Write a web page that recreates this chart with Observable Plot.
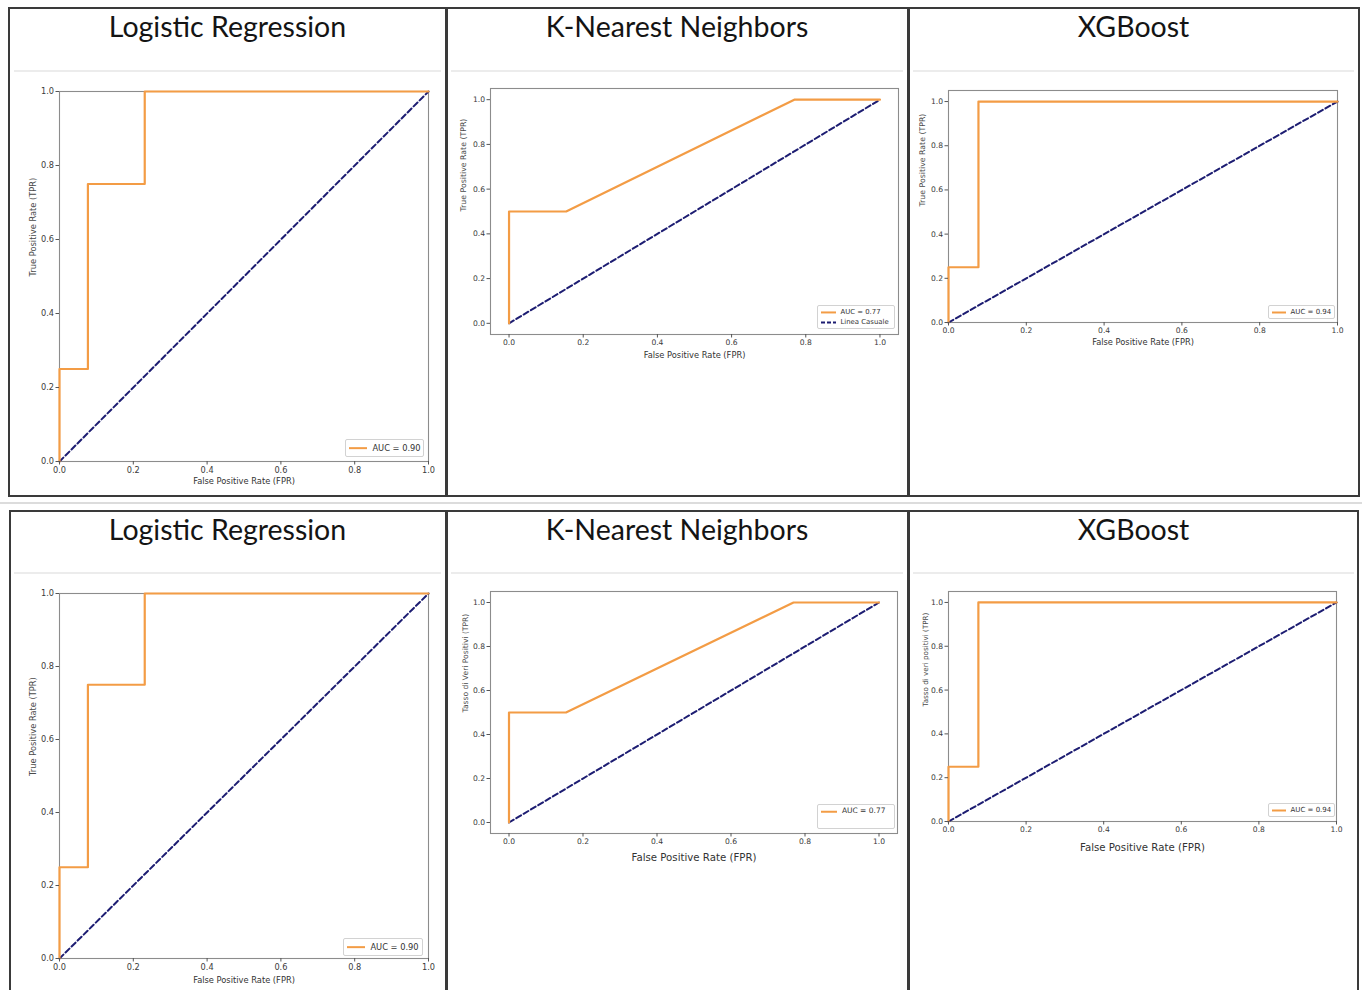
<!DOCTYPE html>
<html><head><meta charset="utf-8">
<script src="https://cdn.jsdelivr.net/npm/d3@7"></script>
<script src="https://cdn.jsdelivr.net/npm/@observablehq/plot@0.6"></script>
<style>
html,body{margin:0;padding:0;background:#fff}
body{width:1362px;height:990px;overflow:hidden;position:relative;font-family:"DejaVu Sans",sans-serif}
.abs{position:absolute}
.box{position:absolute;border:2.5px solid #3a3a3a;box-sizing:border-box}
.vline{position:absolute;width:2.5px;background:#3a3a3a}
.hfaint{position:absolute;height:1.5px;background:#ececec}
.title{position:absolute;text-align:center;font-family:Lato,sans-serif;font-size:28.5px;color:#141414;line-height:30px;white-space:nowrap}
.legend{position:absolute;background:#fff;border:1px solid #d2d2d2;border-radius:2px;box-sizing:border-box;color:#333;font-family:"DejaVu Sans",sans-serif}
.legend .row{display:flex;align-items:center;white-space:nowrap}
.plotwrap{position:absolute}
.plotwrap svg{overflow:visible}
</style></head><body>
<script>
// ---- data ----
const models = ["Logistic Regression", "K-Nearest Neighbors", "XGBoost"];
const fprLR = [0, 0, 0.077, 0.077, 0.231, 0.231, 1];
const tprLR = [0, 0.25, 0.25, 0.75, 0.75, 1, 1];
const fprKNN = [0, 0, 0.154, 0.769, 1];
const tprKNN = [0, 0.5, 0.5, 1, 1];
const fprXGB = [0, 0, 0.077, 0.077, 1];
const tprXGB = [0, 0.25, 0.25, 1, 1];
const diagFpr = [0, 1];
const diagTpr = [0, 1];
const aucLabels = ["AUC = 0.90", "AUC = 0.77", "AUC = 0.94"];
const randomLabel = "Linea Casuale";
const tickValues = [0, 0.2, 0.4, 0.6, 0.8, 1.0];
const xLabel = "False Positive Rate (FPR)";
const yLabelsTop = ["True Positive Rate (TPR)", "True Positive Rate (TPR)", "True Positive Rate (TPR)"];
const yLabelsBottom = ["True Positive Rate (TPR)", "Tasso di Veri Positivi (TPR)", "Tasso di veri positivi (TPR)"];

const series = [[fprLR, tprLR], [fprKNN, tprKNN], [fprXGB, tprXGB]];

const ORANGE = "#f39c45";
const NAVY = "#1d1d72";

// ---- layout (pixel positions of each panel) ----
const layout = [
  // row 0
  {row:0,col:0, frame:[59,91,428,461], xd:[0,1], yd:[0,1], fs:8.2, xlFs:8.3, ylFs:8.3, xlOff:20, ylOff:26,
   legend:{x:345,y:439,w:79,h:18,fs:8.3,sw:18,entries:1}},
  {row:0,col:1, frame:[490,88,898,334], xd:[-0.05,1.05], yd:[-0.05,1.05], fs:7.6, xlFs:8.3, ylFs:7.8, xlOff:21, ylOff:27,
   legend:{x:817,y:305,w:78,h:24,fs:6.9,sw:15,entries:2}},
  {row:0,col:2, frame:[948,90,1337,322], xd:[0,1], yd:[0,1.05], fs:7.6, xlFs:8.3, ylFs:7.8, xlOff:20, ylOff:26,
   legend:{x:1268,y:305,w:67,h:14,fs:7,sw:14,entries:1}},
  // row 1
  {row:1,col:0, frame:[59,593,428,958], xd:[0,1], yd:[0,1], fs:8.2, xlFs:8.3, ylFs:8.3, xlOff:22, ylOff:26,
   legend:{x:343,y:938,w:80,h:18,fs:8.3,sw:18,entries:1}},
  {row:1,col:1, frame:[490,591,897,833], xd:[-0.05,1.05], yd:[-0.05,1.05], fs:7.6, xlFs:10.2, ylFs:7.6, xlOff:24, ylOff:25,
   legend:{x:817,y:804,w:78,h:25,fs:7.5,sw:16,entries:1,blankRow:true}},
  {row:1,col:2, frame:[948,591,1336,821], xd:[0,1], yd:[0,1.05], fs:7.6, xlFs:10.2, ylFs:7.2, xlOff:26, ylOff:23,
   legend:{x:1268,y:803,w:67,h:14,fs:7,sw:14,entries:1}}
];

// ---- frame boxes ----
function el(cls, style, text){
  const d = document.createElement("div");
  d.className = cls;
  Object.assign(d.style, style);
  if (text != null) d.textContent = text;
  document.body.appendChild(d);
  return d;
}
el("box", {left:"8px", top:"7px", width:"1352px", height:"490px"});
el("box", {left:"9px", top:"510px", width:"1350px", height:"500px"});
el("abs", {left:"0px", top:"502px", width:"1362px", height:"2px", background:"#dcdcdc"});
[445, 907].forEach(x => {
  el("vline", {left:x+"px", top:"7px", height:"490px"});
  el("vline", {left:x+"px", top:"510px", height:"490px"});
});
const colSpans = [[10,445],[447,907],[909,1358]];
colSpans.forEach(([a,b]) => {
  el("hfaint", {left:(a+4)+"px", top:"70px", width:(b-a-8)+"px"});
  el("hfaint", {left:(a+4)+"px", top:"572px", width:(b-a-8)+"px"});
});
// titles
[0,1].forEach(row => {
  colSpans.forEach(([a,b], i) => {
    el("title", {left:a+"px", width:(b-a)+"px", top:(row===0 ? 11 : 514)+"px"}, models[i]);
  });
});

// ---- panels ----
function makePanel(cfg, fpr, tpr, ylabel, legendTexts){
  const [l,t,r,b] = cfg.frame;
  const ml = 50, mr = 12, mt = 12, mb = 40;
  const roc = fpr.map((f,i) => ({fpr:f, tpr:tpr[i]}));
  const diag = diagFpr.map((f,i) => ({fpr:f, tpr:diagTpr[i]}));
  const svg = Plot.plot({
    width: (r-l)+ml+mr, height: (b-t)+mt+mb,
    marginLeft: ml, marginRight: mr, marginTop: mt, marginBottom: mb,
    style: {fontFamily:"DejaVu Sans, sans-serif", color:"#3a3a3a", background:"transparent"},
    x: {domain: cfg.xd},
    y: {domain: cfg.yd},
    marks: [
      Plot.frame({stroke:"#8c8c8c", strokeWidth:1.1}),
      Plot.line(diag, {x:"fpr", y:"tpr", stroke:NAVY, strokeWidth:2, strokeDasharray:"5.5,3"}),
      Plot.line(roc, {x:"fpr", y:"tpr", stroke:ORANGE, strokeWidth:2.2}),
      Plot.axisX({ticks:tickValues, tickFormat:d3.format(".1f"), tickSize:3.5, tickPadding:2, fontSize:cfg.fs, label:null, stroke:"#555"}),
      Plot.axisY({ticks:tickValues, tickFormat:d3.format(".1f"), tickSize:3.5, tickPadding:2, fontSize:cfg.fs, label:null, stroke:"#555"}),
      Plot.text([xLabel], {text:d=>d, frameAnchor:"bottom", dy:cfg.xlOff, fontSize:cfg.xlFs, lineAnchor:"middle", fill:"#333", fontWeight: cfg.xlFs > 9 ? 500 : 400}),
      Plot.text([ylabel], {text:d=>d, frameAnchor:"left", dx:-cfg.ylOff, rotate:-90, fontSize:cfg.ylFs, lineAnchor:"middle", fill:"#4a4a4a"})
    ]
  });
  const wrap = el("plotwrap", {left:(l-ml)+"px", top:(t-mt)+"px"});
  wrap.appendChild(svg);

  // legend
  const L = cfg.legend;
  const lg = el("legend", {left:L.x+"px", top:L.y+"px", width:L.w+"px", height:L.h+"px", fontSize:L.fs+"px", padding:"1px 3px", display:"flex", flexDirection:"column", justifyContent:"center"});
  legendTexts.forEach((txt, k) => {
    const row = document.createElement("div");
    row.className = "row";
    const sw = L.sw;
    const dashed = k === 1;
    row.innerHTML = `<svg width="${sw}" height="${L.fs}" style="margin-right:${L.fs*0.65}px;flex:none"><line x1="0" x2="${sw}" y1="${L.fs/2}" y2="${L.fs/2}" stroke="${dashed?NAVY:ORANGE}" stroke-width="2" ${dashed?'stroke-dasharray="4,2"':''}/></svg><span>${txt}</span>`;
    row.style.lineHeight = (L.fs*1.45)+"px";
    lg.appendChild(row);
  });
  if (L.blankRow){
    const row = document.createElement("div");
    row.style.height = (L.fs*1.4)+"px";
    lg.appendChild(row);
  }
}

layout.forEach(cfg => {
  const [fpr, tpr] = series[cfg.col];
  const ylabel = cfg.row === 0 ? yLabelsTop[cfg.col] : yLabelsBottom[cfg.col];
  const texts = cfg.legend.entries === 2 ? [aucLabels[cfg.col], randomLabel] : [aucLabels[cfg.col]];
  makePanel(cfg, fpr, tpr, ylabel, texts);
});
</script>
</body></html>
